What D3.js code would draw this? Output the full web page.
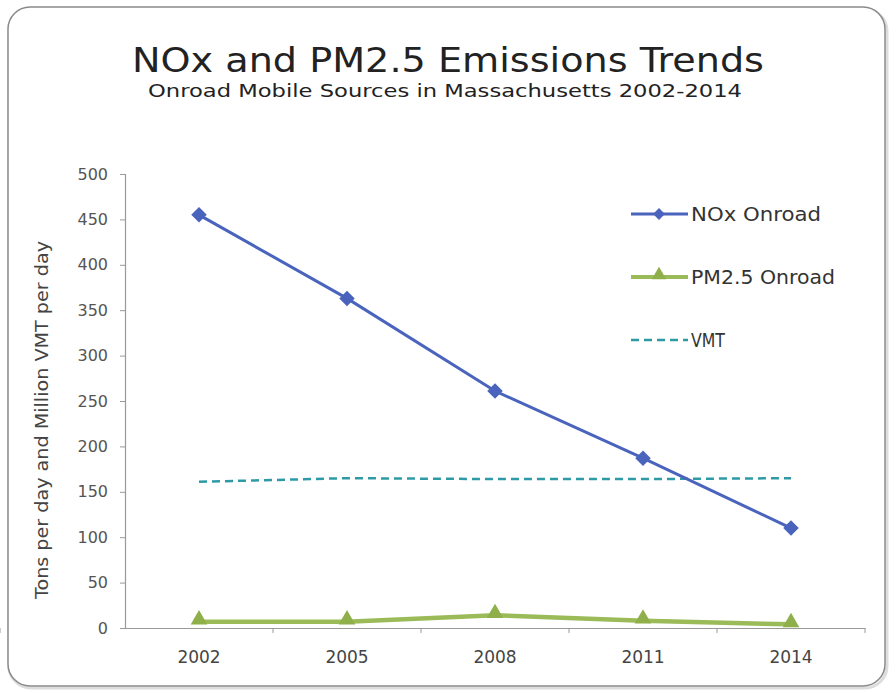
<!DOCTYPE html>
<html><head><meta charset="utf-8">
<script src="https://cdn.jsdelivr.net/npm/d3@7"></script>
<style>body{margin:0;background:#fff;} svg{display:block;}</style>
</head><body>
<svg id="c" width="896" height="694"></svg>
<script>
const years = ["2002","2005","2008","2011","2014"];
const noxOnroad = [455, 363, 261, 187, 110];
const pm25Onroad = [7, 7, 14, 8, 4];
const vmt = [161, 165, 164, 164, 165];
const yTicks = [0,50,100,150,200,250,300,350,400,450,500];
const seriesNames = ["NOx Onroad","PM2.5 Onroad","VMT"];
const legendWidths = [130, 144, 34];

const svg = d3.select("#c");
const font = "'DejaVu Sans', sans-serif";

// frame
svg.append("rect").attr("x",9).attr("y",9).attr("width",878).attr("height",679)
  .attr("rx",22).attr("fill","none").attr("stroke","#ddd").attr("stroke-width",3);
svg.append("rect").attr("x",8).attr("y",7).attr("width",877).attr("height",679)
  .attr("rx",22).attr("fill","#fff").attr("stroke","#8a8a8a").attr("stroke-width",1.5);

// titles
svg.append("text").attr("x",448).attr("y",72).attr("text-anchor","middle")
  .attr("font-family",font).attr("font-size",34).attr("fill","#222")
  .attr("textLength",632).attr("lengthAdjust","spacingAndGlyphs")
  .text("NOx and PM2.5 Emissions Trends");
svg.append("text").attr("x",445).attr("y",97).attr("text-anchor","middle")
  .attr("font-family",font).attr("font-size",18).attr("fill","#222")
  .attr("textLength",594).attr("lengthAdjust","spacingAndGlyphs")
  .text("Onroad Mobile Sources in Massachusetts 2002-2014");

const x = d3.scaleBand().domain(years).range([125,865]);
const y = d3.scaleLinear().domain([0,500]).range([628,174]);
const cx = d => x(d) + x.bandwidth()/2;

// y axis
const ya = svg.append("g").attr("transform","translate(125,0)")
  .call(d3.axisLeft(y).tickValues(yTicks).tickSize(5).tickPadding(12));
ya.select(".domain").attr("stroke","#999").attr("stroke-width",1.2);
ya.selectAll(".tick line").attr("stroke","#999");
ya.selectAll(".tick text").attr("font-family",font).attr("font-size",16).attr("fill","#555");

// x axis
const xa = svg.append("g").attr("transform","translate(0,628)")
  .call(d3.axisBottom(x).tickSize(0).tickPadding(23));
xa.select(".domain").attr("stroke","#999").attr("stroke-width",1.2);
xa.selectAll(".tick text").attr("font-family",font).attr("font-size",17).attr("fill","#444");
xa.selectAll(".sep").data(years.slice(1).concat(["end"])).enter().append("line")
  .attr("x1",(d,i)=>125+x.bandwidth()*(i+1)).attr("x2",(d,i)=>125+x.bandwidth()*(i+1))
  .attr("y1",0).attr("y2",5).attr("stroke","#999");
xa.append("line").attr("x1",0).attr("x2",0).attr("y1",0).attr("y2",5).attr("stroke","#999");

// y axis title
svg.append("text").attr("transform","translate(48,420) rotate(-90)")
  .attr("text-anchor","middle").attr("font-family",font).attr("font-size",18).attr("fill","#444")
  .attr("textLength",358).attr("lengthAdjust","spacingAndGlyphs")
  .text("Tons per day and Million VMT per day");

const line = d3.line().x((d,i)=>cx(years[i])).y(d=>y(d));

// VMT
svg.append("path").attr("d",line(vmt)).attr("fill","none")
  .attr("stroke","#2e9aa6").attr("stroke-width",2.5).attr("stroke-dasharray","8,5");
// PM2.5
svg.append("path").attr("d",line(pm25Onroad)).attr("fill","none")
  .attr("stroke","#9bbb59").attr("stroke-width",4.5);
svg.selectAll(".pm").data(pm25Onroad).enter().append("path")
  .attr("d",d3.symbol(d3.symbolTriangle,120)())
  .attr("transform",(d,i)=>`translate(${cx(years[i])},${y(d)-2})`).attr("fill","#8faf4a");
// NOx
svg.append("path").attr("d",line(noxOnroad)).attr("fill","none")
  .attr("stroke","#4a64be").attr("stroke-width",3);
svg.selectAll(".nox").data(noxOnroad).enter().append("path")
  .attr("d",d3.symbol(d3.symbolSquare,120)())
  .attr("transform",(d,i)=>`translate(${cx(years[i])},${y(d)}) rotate(45)`).attr("fill","#4a64be");

// legend
const leg = svg.append("g");
const ly = [214,277,340];
const lcol = ["#4a64be","#9bbb59","#2e9aa6"];
seriesNames.forEach((n,i)=>{
  const l = leg.append("line").attr("x1",631).attr("x2",688).attr("y1",ly[i]).attr("y2",ly[i])
    .attr("stroke",lcol[i]).attr("stroke-width",i==1?4:(i==2?2.5:3));
  if(i==2) l.attr("stroke-dasharray","8,5");
  if(i==0) leg.append("path").attr("d",d3.symbol(d3.symbolSquare,70)())
    .attr("transform",`translate(659,${ly[i]}) rotate(45)`).attr("fill",lcol[0]);
  if(i==1) leg.append("path").attr("d",d3.symbol(d3.symbolTriangle,90)())
    .attr("transform",`translate(659,${ly[i]-2})`).attr("fill","#8faf4a");
  leg.append("text").attr("x",691).attr("y",ly[i]+7).attr("font-family",font)
    .attr("font-size",19).attr("fill","#333")
    .attr("textLength",legendWidths[i]).attr("lengthAdjust","spacingAndGlyphs").text(n);
});
</script>
</body></html>
